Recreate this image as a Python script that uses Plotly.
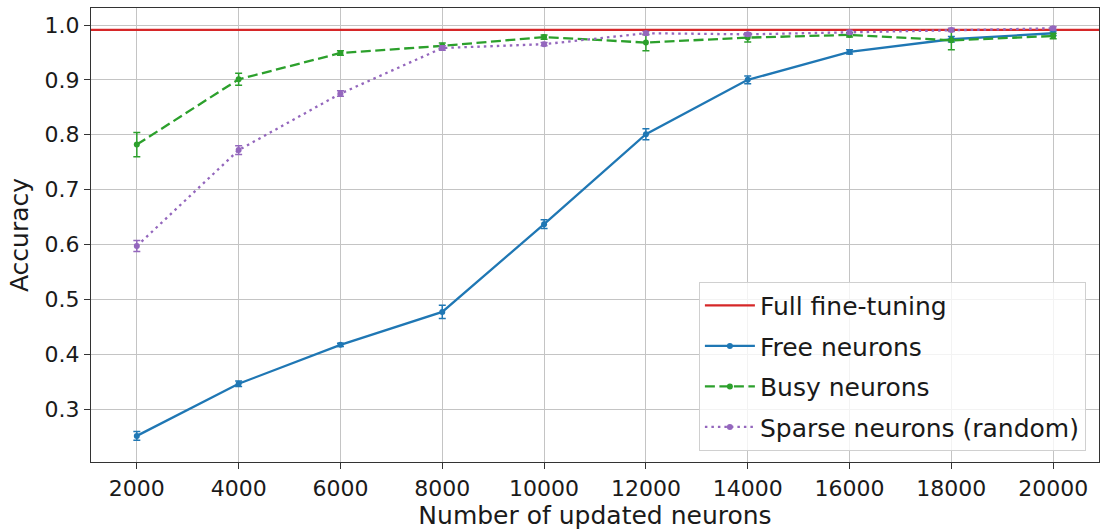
import plotly.graph_objects as go

neurons = [2000, 4000, 6000, 8000, 10000, 12000, 14000, 16000, 18000, 20000]
full_ft = 0.991

free_acc = [0.251, 0.346, 0.417, 0.477, 0.637, 0.801, 0.900, 0.951, 0.974, 0.985]
free_err = [0.008, 0.005, 0.003, 0.012, 0.008, 0.010, 0.007, 0.004, 0.005, 0.004]

busy_acc = [0.782, 0.901, 0.949, 0.962, 0.978, 0.968, 0.977, 0.982, 0.972, 0.980]
busy_err = [0.022, 0.011, 0.004, 0.005, 0.004, 0.015, 0.008, 0.004, 0.017, 0.005]

sparse_acc = [0.597, 0.772, 0.875, 0.958, 0.965, 0.985, 0.983, 0.987, 0.991, 0.994]
sparse_err = [0.010, 0.008, 0.005, 0.004, 0.003, 0.003, 0.003, 0.003, 0.003, 0.003]

x_range = [1100, 20900]
y_range = [0.2034, 1.031]

BLUE = "#1f77b4"
GREEN = "#2ca02c"
PURPLE = "#9467bd"
RED = "#d62728"
FONT = "DejaVu Sans"
TXT = "#1a1a1a"

fig = go.Figure()

fig.add_trace(go.Scatter(
    x=x_range, y=[full_ft, full_ft], mode="lines",
    line=dict(color=RED, width=2.2), name="Full fine-tuning", legendgroup="g0"))

def add_series(y, err, color, dash, name, grp):
    fig.add_trace(go.Scatter(
        x=neurons, y=y, mode="lines+markers", name=name, legendgroup=grp,
        line=dict(color=color, width=2.3, dash=dash),
        marker=dict(color=color, size=6, symbol="circle"),
        error_y=dict(type="data", array=err, visible=True, color=color,
                     thickness=1.5, width=3.5)))

add_series(free_acc, free_err, BLUE, "solid", "Free neurons", "g1")
add_series(busy_acc, busy_err, GREEN, "10px,4.5px", "Busy neurons", "g2")
add_series(sparse_acc, sparse_err, PURPLE, "2.5px,4px", "Sparse neurons (random)", "g3")

axis_common = dict(
    showline=True, linecolor="#333333", linewidth=1.2, mirror=True,
    showgrid=True, gridcolor="#c4c4c4", gridwidth=1,
    ticks="outside", ticklen=6, tickwidth=1.2, tickcolor="#333333",
    zeroline=False,
    tickfont=dict(family=FONT, size=22, color=TXT),
)

fig.update_xaxes(
    range=x_range, tickmode="array", tickvals=neurons,
    ticktext=[str(v) for v in neurons],
    title=dict(text="Number of updated neurons",
               font=dict(family=FONT, size=25, color=TXT), standoff=4),
    **axis_common)
fig.update_yaxes(
    range=y_range, tickmode="array",
    tickvals=[0.3, 0.4, 0.5, 0.6, 0.7, 0.8, 0.9, 1.0],
    ticktext=["0.3", "0.4", "0.5", "0.6", "0.7", "0.8", "0.9", "1.0"],
    title=dict(text="Accuracy",
               font=dict(family=FONT, size=25, color=TXT), standoff=8),
    **axis_common)

fig.update_layout(
    width=1102, height=531,
    margin=dict(l=91, r=3, t=8, b=69),
    paper_bgcolor="white", plot_bgcolor="white",
    font=dict(family=FONT, size=22, color=TXT),
    showlegend=True,
    legend=dict(
        x=0.987, y=0.025, xanchor="right", yanchor="bottom",
        bgcolor="rgba(255,255,255,0.8)", bordercolor="#d0d0d0", borderwidth=1,
        font=dict(family=FONT, size=25, color=TXT),
        tracegroupgap=5, itemwidth=50,
    ),
)

fig.write_html("out.html")
